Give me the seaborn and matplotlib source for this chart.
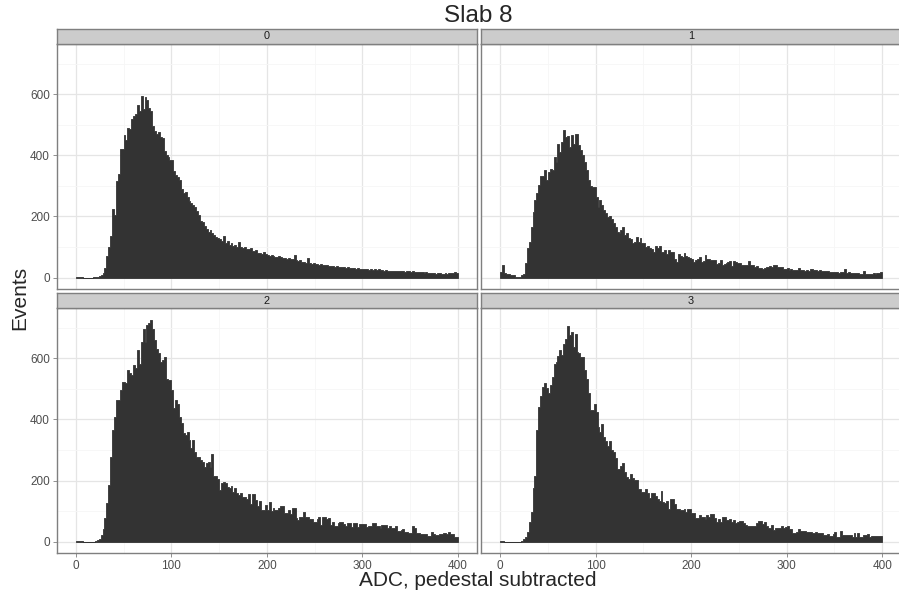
import matplotlib
matplotlib.use("Agg")
import matplotlib.pyplot as plt
import numpy as np
import pandas as pd
import seaborn as sns

# histogram counts per channel, binwidth 2 over 0..400
ch0 = [3, 2, 1, 1, 0, 0, 0, 0, 0, 1,
       1, 2, 4, 8, 15, 30, 70, 100, 135, 225,
       205, 315, 340, 420, 420, 465, 450, 490, 485, 520,
       530, 535, 565, 545, 595, 550, 590, 580, 555, 545,
       495, 480, 470, 475, 460, 455, 415, 400, 395, 385,
       384, 350, 335, 330, 320, 290, 275, 280, 262, 250,
       245, 238, 230, 219, 205, 185, 182, 170, 160, 150,
       155, 145, 140, 132, 130, 125, 120, 135, 114, 118,
       108, 112, 104, 106, 100, 116, 100, 96, 101, 94,
       92, 97, 88, 86, 90, 82, 79, 77, 84, 76,
       74, 72, 75, 70, 68, 67, 70, 66, 64, 65,
       62, 63, 60, 61, 73, 57, 55, 58, 52, 50,
       49, 63, 47, 46, 48, 44, 45, 42, 43, 41,
       40, 41, 38, 39, 37, 36, 37, 35, 34, 33,
       33, 32, 34, 31, 30, 31, 29, 30, 28, 29,
       28, 27, 29, 26, 27, 26, 27, 25, 28, 24,
       25, 23, 24, 22, 23, 22, 21, 23, 20, 21,
       21, 20, 19, 22, 20, 19, 20, 18, 19, 17,
       18, 17, 16, 18, 15, 16, 14, 15, 13, 15,
       14, 13, 12, 15, 13, 14, 16, 15, 17, 16]

ch1 = [18, 41, 14, 13, 12, 9, 8, 8, 3, 3,
       3, 8, 12, 47, 96, 117, 166, 215, 253, 275,
       302, 331, 331, 353, 318, 345, 356, 351, 394, 378,
       436, 411, 443, 484, 460, 462, 427, 465, 438, 471,
       471, 433, 416, 400, 378, 351, 318, 300, 295, 295,
       262, 232, 255, 237, 221, 210, 199, 201, 193, 177,
       166, 150, 147, 155, 164, 139, 145, 128, 125, 114,
       117, 132, 117, 128, 114, 112, 101, 103, 96, 92,
       85, 103, 96, 103, 85, 85, 90, 77, 90, 85,
       85, 60, 52, 77, 72, 68, 79, 70, 66, 63,
       60, 52, 58, 60, 66, 52, 55, 74, 62, 60,
       58, 57, 58, 45, 48, 58, 41, 44, 49, 52,
       55, 38, 54, 52, 49, 48, 41, 42, 40, 41,
       54, 41, 40, 36, 38, 30, 31, 29, 30, 36,
       35, 37, 36, 42, 40, 34, 33, 35, 27, 28,
       32, 26, 27, 25, 26, 25, 32, 24, 25, 23,
       24, 22, 27, 28, 26, 25, 23, 24, 22, 23,
       22, 21, 18, 19, 18, 17, 18, 16, 17, 17,
       27, 16, 17, 15, 16, 14, 16, 15, 13, 12,
       20, 12, 13, 11, 12, 14, 13, 15, 14, 17]

ch2 = [2, 2, 2, 2, 0, 0, 0, 0, 0, 0,
       2, 5, 10, 22, 40, 76, 125, 185, 278, 365,
       409, 463, 463, 496, 523, 523, 520, 562, 551, 545,
       578, 567, 627, 583, 654, 695, 654, 709, 715, 727,
       695, 660, 632, 616, 589, 594, 605, 534, 529, 529,
       496, 436, 463, 452, 409, 387, 354, 349, 360, 333,
       305, 333, 294, 278, 278, 267, 262, 245, 256, 262,
       245, 287, 215, 215, 205, 169, 193, 196, 191, 180,
       175, 182, 164, 174, 160, 153, 158, 147, 145, 138,
       155, 123, 155, 155, 136, 117, 134, 104, 104, 120,
       104, 129, 101, 109, 104, 104, 109, 115, 115, 95,
       93, 104, 91, 109, 109, 76, 71, 80, 80, 98,
       80, 80, 73, 73, 65, 65, 73, 82, 55, 80,
       80, 73, 76, 55, 65, 51, 51, 62, 65, 65,
       57, 51, 60, 60, 49, 60, 60, 49, 57, 57,
       57, 57, 49, 51, 51, 60, 60, 51, 51, 44,
       53, 53, 53, 44, 51, 44, 44, 51, 36, 36,
       38, 40, 33, 33, 27, 27, 51, 44, 27, 29,
       25, 25, 25, 25, 19, 19, 33, 25, 22, 22,
       25, 25, 27, 27, 25, 33, 25, 25, 16, 16]

ch3 = [2, 1, 0, 0, 0, 0, 0, 0, 0, 0,
       0, 3, 8, 16, 33, 65, 98, 174, 215, 367,
       442, 477, 505, 520, 502, 487, 513, 540, 583, 589,
       607, 629, 611, 647, 662, 705, 676, 687, 638, 679,
       622, 618, 605, 605, 562, 534, 487, 431, 431, 450,
       425, 376, 360, 385, 341, 330, 313, 330, 300, 294,
       273, 237, 237, 248, 256, 229, 213, 204, 221, 207,
       202, 202, 171, 171, 164, 164, 171, 158, 142, 160,
       160, 150, 140, 134, 167, 131, 125, 133, 106, 140,
       140, 123, 106, 106, 104, 104, 106, 98, 107, 107,
       95, 95, 76, 76, 87, 82, 82, 73, 87, 80,
       89, 89, 76, 65, 74, 65, 80, 80, 71, 71,
       75, 65, 71, 62, 65, 68, 68, 60, 55, 51,
       51, 51, 51, 51, 60, 67, 67, 58, 64, 51,
       44, 44, 55, 38, 46, 46, 44, 51, 44, 48,
       51, 40, 40, 29, 29, 33, 40, 36, 36, 36,
       32, 32, 32, 29, 29, 33, 27, 27, 27, 22,
       22, 26, 19, 19, 24, 31, 16, 16, 35, 23,
       23, 23, 20, 20, 14, 29, 14, 29, 16, 16,
       22, 22, 25, 16, 19, 19, 19, 19, 19, 19]

channels = ["0", "1", "2", "3"]
counts = [ch0, ch1, ch2, ch3]
x_ticks = [0, 100, 200, 300, 400]
y_ticks = [0, 200, 400, 600]

centers = np.arange(1, 400, 2)

frames = []
for name, vals in zip(channels, counts):
    frames.append(pd.DataFrame({"adc": centers, "events": vals, "channel": name}))
df = pd.concat(frames, ignore_index=True)

sns.set_theme(style="white")
plt.rcParams["font.family"] = ["Liberation Sans", "DejaVu Sans"]

W, H = 899, 597
fig = plt.figure(figsize=(W / 100, H / 100), dpi=100)

# panel boxes in pixels: left, top, width, height
boxes = [(56.7, 44.0, 420.3, 244.7), (481.0, 44.0, 420.3, 244.7),
         (56.7, 308.3, 420.3, 244.4), (481.0, 308.3, 420.3, 244.4)]
strip_h = 15.3
grey50 = "#7F7F7F"

for i, (name, box) in enumerate(zip(channels, boxes)):
    x0, y0, w, h = box
    ax = fig.add_axes([x0 / W, 1 - (y0 + h) / H, w / W, h / H])
    sub = df[df.channel == name]
    sns.histplot(data=sub, x="adc", weights="events", binwidth=2,
                 binrange=(0, 400), element="step", fill=True,
                 color="#333333", alpha=1, edgecolor="#333333",
                 linewidth=0.6, ax=ax)
    ax.set_xlim(-20, 420)
    ax.set_ylim(-36.4, 764)
    ax.set_xticks(x_ticks)
    ax.set_yticks(y_ticks)
    ax.set_xticks([50, 150, 250, 350], minor=True)
    ax.set_yticks([100, 300, 500, 700], minor=True)
    ax.grid(which="major", color="#E5E5E5", linewidth=0.9)
    ax.grid(which="minor", color="#F6F6F6", linewidth=0.6)
    ax.set_axisbelow(True)
    ax.set_xlabel("")
    ax.set_ylabel("")
    for s in ax.spines.values():
        s.set_color(grey50)
        s.set_linewidth(1.0)
    ax.tick_params(which="minor", length=0)
    ax.tick_params(which="major", length=3, width=0.6, color=grey50,
                   labelsize=8.5, labelcolor="#4D4D4D", pad=2)
    if i in (0, 1):
        ax.tick_params(axis="x", bottom=False, labelbottom=False)
    else:
        ax.tick_params(axis="x", bottom=True, labelbottom=True)
    if i in (1, 3):
        ax.tick_params(axis="y", left=False, labelleft=False)
    else:
        ax.tick_params(axis="y", left=True, labelleft=True)

    # facet strip
    sax = fig.add_axes([x0 / W, 1 - y0 / H, w / W, strip_h / H])
    sax.set_facecolor("#CCCCCC")
    sax.set_xticks([])
    sax.set_yticks([])
    for s in sax.spines.values():
        s.set_color(grey50)
        s.set_linewidth(1.0)
    sax.text(0.5, 0.5, name, ha="center", va="center", fontsize=7.8,
             color="#1A1A1A", transform=sax.transAxes)

fig.text(478 / W, 1 - 16 / H, "Slab 8", ha="center", va="center", fontsize=17.5)
fig.text(478 / W, 1 - 580 / H, "ADC, pedestal subtracted", ha="center",
         va="center", fontsize=15)
fig.text(20 / W, 1 - 298 / H, "Events", ha="center", va="center",
         rotation=90, fontsize=15)

fig.savefig("out.png", dpi=100)
